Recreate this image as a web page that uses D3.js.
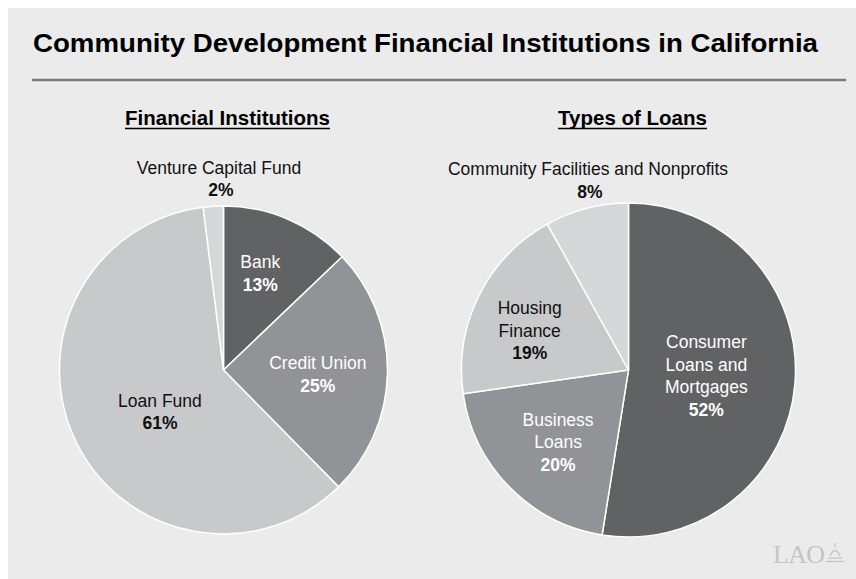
<!DOCTYPE html>
<html>
<head>
<meta charset="utf-8">
<script src="https://cdn.jsdelivr.net/npm/d3@7"></script>
<style>
  html, body { margin: 0; padding: 0; background: #fff; }
  text { font-family: "Liberation Sans", Arial, Helvetica, sans-serif; }
</style>
</head>
<body>
<div id="chart"></div>
<script>
// Chart data
var title = "Community Development Financial Institutions in California";

var leftTitle = "Financial Institutions";
var leftCats = ["Bank", "Credit Union", "Loan Fund", "Venture Capital Fund"];
var leftVals = [13, 25, 61, 2];

var rightTitle = "Types of Loans";
var rightCats = ["Consumer Loans and Mortgages", "Business Loans", "Housing Finance", "Community Facilities and Nonprofits"];
var rightVals = [52, 20, 19, 8];

// Page size
var width = 856, height = 579;

var svg = d3.select("#chart").append("svg")
    .attr("width", width)
    .attr("height", height);

// Gray panel
svg.append("rect")
    .attr("x", 8).attr("y", 8)
    .attr("width", width - 8).attr("height", height - 8)
    .attr("fill", "#ebebeb");

// Title + rule
var t = svg.append("text")
    .attr("x", 33).attr("y", 52)
    .attr("font-size", 26.5)
    .attr("font-weight", "bold")
    .attr("fill", "#000")
    .text(title);
var tl = t.node().getComputedTextLength();
if (Math.abs(tl - 785) > 4) t.attr("textLength", 785).attr("lengthAdjust", "spacingAndGlyphs");

svg.append("line")
    .attr("x1", 32).attr("x2", 846)
    .attr("y1", 80).attr("y2", 80)
    .attr("stroke", "#7a7a7a")
    .attr("stroke-width", 2.5);

// Colours per slice, in data order
var leftColors = ["#616264", "#929396", "#c8c9cb", "#d6d7d9"];
var rightColors = ["#616264", "#929396", "#c8c9cb", "#d6d7d9"];
var leftText = ["#fff", "#fff", "#111", "#111"];
var rightText = ["#fff", "#fff", "#111", "#111"];

// How names wrap and small nudges to the label spots
var lines = {
  "Consumer Loans and Mortgages": ["Consumer", "Loans and", "Mortgages"],
  "Business Loans": ["Business", "Loans"],
  "Housing Finance": ["Housing", "Finance"]
};
var nudge = {
  "Bank": [-2, 0],
  "Credit Union": [-4, 9],
  "Loan Fund": [25, 5],
  "Consumer Loans and Mortgages": [-22, 4],
  "Business Loans": [1, 8],
  "Housing Finance": [-9, 11]
};

function drawPie(cx, cy, r, heading, cats, vals, colors, textColors, outside) {
  var g = svg.append("g").attr("transform", "translate(" + cx + "," + cy + ")");

  // heading, bold and underlined
  var h = svg.append("text")
      .attr("x", cx + 4).attr("y", 125)
      .attr("text-anchor", "middle")
      .attr("font-size", 20.5)
      .attr("font-weight", "bold")
      .attr("fill", "#000")
      .text(heading);
  var hw = h.node().getComputedTextLength();
  svg.append("line")
      .attr("x1", cx + 4 - hw / 2).attr("x2", cx + 4 + hw / 2)
      .attr("y1", 128.5).attr("y2", 128.5)
      .attr("stroke", "#000").attr("stroke-width", 1.7);

  var data = cats.map(function(c, i) { return {name: c, value: vals[i], i: i}; });
  var pie = d3.pie().sort(null).value(function(d) { return d.value; });
  var arc = d3.arc().innerRadius(0).outerRadius(r);
  var labelArc = d3.arc().innerRadius(r * 0.6).outerRadius(r * 0.6);
  var arcs = pie(data);

  g.selectAll("path")
      .data(arcs)
    .enter().append("path")
      .attr("d", arc)
      .attr("fill", function(d) { return colors[d.data.i]; })
      .attr("stroke", "#fff")
      .attr("stroke-width", 1.5)
      .attr("stroke-linejoin", "round");

  var lh = 22.5;
  arcs.forEach(function(d) {
    var name = d.data.name;
    var isOut = name === outside.name;
    var px, py, fill;
    if (isOut) {
      px = outside.x - cx; py = outside.y - cy; fill = "#111";
    } else {
      var c = labelArc.centroid(d);
      var n = nudge[name] || [0, 0];
      px = c[0] + n[0]; py = c[1] + n[1]; fill = textColors[d.data.i];
    }
    var ls = (lines[name] || [name]).slice();
    var all = ls.concat([d.data.value + "%"]);
    var k = all.length;
    all.forEach(function(s, j) {
      g.append("text")
          .attr("x", px + ((j === k - 1 && isOut) ? 2 : 0))
          .attr("y", py + (j - (k - 1) / 2) * lh)
          .attr("text-anchor", "middle")
          .attr("font-size", j === k - 1 ? 17.5 : 17.5)
          .attr("font-weight", j === k - 1 ? "bold" : "normal")
          .attr("fill", fill)
          .text(s);
    });
  });
}

drawPie(223.5, 370, 164, leftTitle, leftCats, leftVals, leftColors, leftText,
        {name: "Venture Capital Fund", x: 219, y: 185});
drawPie(628.5, 370, 167, rightTitle, rightCats, rightVals, rightColors, rightText,
        {name: "Community Facilities and Nonprofits", x: 588, y: 186.5});

// LAO mark
svg.append("text")
    .attr("x", 773).attr("y", 563)
    .style("font-family", "'Liberation Serif', 'Times New Roman', serif")
    .attr("font-size", 26)
    .attr("fill", "#c4c4c4")
    .attr("textLength", 52)
    .text("LAO");
var dome = svg.append("g").attr("stroke", "#c4c4c4").attr("fill", "none").attr("stroke-width", 1.3);
dome.append("path").attr("d", "M830,556 Q835,545 840,556");
dome.append("line").attr("x1", 835).attr("x2", 835).attr("y1", 543).attr("y2", 547);
dome.append("line").attr("x1", 828).attr("x2", 842).attr("y1", 558).attr("y2", 558);
dome.append("line").attr("x1", 826).attr("x2", 844).attr("y1", 561.5).attr("y2", 561.5);
</script>
</body>
</html>
